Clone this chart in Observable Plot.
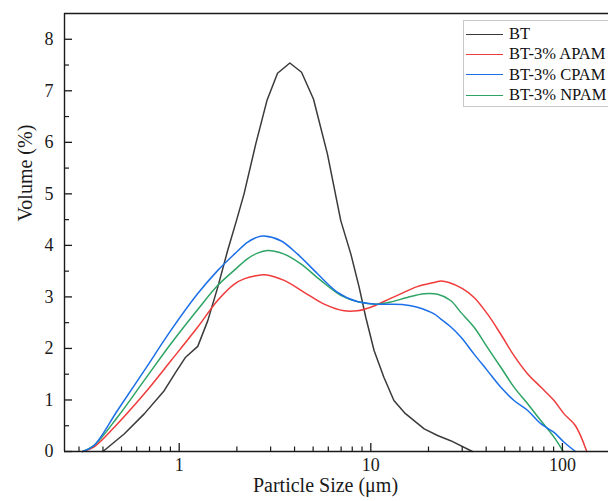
<!DOCTYPE html>
<html><head><meta charset="utf-8">
<script src="https://cdn.jsdelivr.net/npm/d3@7"></script>
<script src="https://cdn.jsdelivr.net/npm/@observablehq/plot@0.6"></script>
<style>
body{margin:0;background:#fff;}
#wrap{position:relative;width:608px;height:501px;overflow:hidden;}
#legend{position:absolute;left:463px;top:20px;width:170px;height:87px;border:1px solid #c8c8c8;box-sizing:border-box;font-family:"Liberation Serif","Times New Roman",serif;font-size:16.5px;background:#fff;color:#111;}
.row{position:absolute;left:0;height:20px;display:flex;align-items:center;white-space:nowrap;}
.sw{width:37px;height:0;border-top:1.3px solid;margin-left:2px;margin-right:6px;}
</style></head>
<body><div id="wrap"><div id="chart"></div><div id="legend"></div></div>
<script>
const seriesNames = ["BT", "BT-3% APAM", "BT-3% CPAM", "BT-3% NPAM"];
const seriesColors = ["#3a3a3a", "#ef3b3b", "#1b6fe8", "#2ea464"];

const xBT = [0.40,0.516,0.657,0.835,0.96,1.08,1.25,1.41,1.59,1.79,1.99,2.18,2.51,2.87,3.26,3.78,4.35,5.02,5.94,6.97,7.87,8.69,9.42,10.4,11.7,13.2,15.0,19.0,22.3,26.1,33.9];
const yBT = [0,0.34,0.73,1.18,1.54,1.83,2.04,2.54,3.19,3.9,4.48,5.0,5.97,6.81,7.34,7.54,7.36,6.84,5.77,4.48,3.83,3.19,2.60,1.96,1.44,0.99,0.75,0.44,0.31,0.21,0];

const xAPAM = [0.313,0.36,0.477,0.657,0.905,1.247,1.586,1.94,2.18,2.51,2.78,3.53,4.49,5.71,7.26,8.5,10,11.7,14.3,17.5,21.4,23.3,25.6,30.1,34.6,40.6,47.6,55.9,65.7,77.1,90.4,102,117,134];
const yAPAM = [0,0.09,0.54,1.12,1.76,2.41,2.93,3.25,3.35,3.41,3.43,3.32,3.09,2.86,2.73,2.73,2.80,2.91,3.06,3.20,3.28,3.31,3.28,3.16,2.99,2.67,2.28,1.86,1.51,1.25,0.99,0.73,0.50,0];

const xCPAM = [0.313,0.36,0.477,0.657,0.905,1.247,1.586,1.94,2.27,2.56,2.78,3.39,4.15,5.27,6.71,8.5,10.8,14.9,17.5,21.4,23.2,26.1,29.5,34.6,40.6,47.6,55.9,65.7,77.1,90.4,102,117];
const yCPAM = [0,0.12,0.80,1.57,2.35,3.06,3.51,3.83,4.06,4.16,4.18,4.09,3.83,3.45,3.09,2.91,2.86,2.85,2.80,2.67,2.57,2.42,2.22,1.89,1.57,1.25,0.99,0.80,0.54,0.37,0.18,0];

const xNPAM = [0.313,0.36,0.477,0.657,0.905,1.247,1.586,1.94,2.27,2.56,2.89,3.53,4.31,5.48,6.97,8.66,10.8,12.7,15.5,19,22.3,26.1,29.5,34.6,40.6,47.6,55.9,65.7,77.1,90.4,101];
const yNPAM = [0,0.12,0.67,1.38,2.09,2.75,3.22,3.52,3.74,3.85,3.90,3.83,3.64,3.32,3.03,2.90,2.86,2.90,2.99,3.06,3.05,2.93,2.70,2.41,2.02,1.64,1.25,0.93,0.60,0.28,0];

const xMajor = [1, 10, 100];
const xMinor = [0.3,0.4,0.5,0.6,0.7,0.8,0.9,2,3,4,5,6,7,8,9,20,30,40,50,60,70,80,90];
const yMajor = [0,1,2,3,4,5,6,7,8];
const yMinor = [0.5,1.5,2.5,3.5,4.5,5.5,6.5,7.5];
const xDomain = [0.252, 174];
const yDomain = [0, 8.5];

const xs = [xBT, xAPAM, xCPAM, xNPAM];
const ys = [yBT, yAPAM, yCPAM, yNPAM];
const tables = xs.map((xa, k) => xa.map((x, i) => ({x, y: ys[k][i], s: seriesNames[k]})));

const axisColor = "#1a1a1a";
const chart = Plot.plot({
  width: 608, height: 501,
  marginLeft: 64, marginRight: 0, marginTop: 13, marginBottom: 50,
  x: {type: "log", domain: xDomain},
  y: {domain: yDomain},
  style: {fontFamily: "'Liberation Serif','Times New Roman',serif", fontSize: "18px", color: axisColor, background: "#fff"},
  marks: [
    Plot.line(tables[0], {x: "x", y: "y", stroke: seriesColors[0], strokeWidth: 1.5}),
    Plot.line(tables[1], {x: "x", y: "y", stroke: seriesColors[1], strokeWidth: 1.5, curve: "catmull-rom"}),
    Plot.line(tables[3], {x: "x", y: "y", stroke: seriesColors[3], strokeWidth: 1.5, curve: "catmull-rom"}),
    Plot.line(tables[2], {x: "x", y: "y", stroke: seriesColors[2], strokeWidth: 1.5, curve: "catmull-rom"}),
    Plot.ruleY([yDomain[0]], {stroke: axisColor, strokeWidth: 1.4}),
    Plot.ruleY([yDomain[1]], {stroke: axisColor, strokeWidth: 1.4}),
    Plot.ruleX([xDomain[0]], {stroke: axisColor, strokeWidth: 1.4}),
    Plot.ruleX(xMajor, {x: d => d, y1: yDomain[0], y2: yDomain[0], insetBottom: 8, stroke: axisColor, strokeWidth: 1.3}),
    Plot.ruleX(xMinor, {x: d => d, y1: yDomain[0], y2: yDomain[0], insetBottom: 4.5, stroke: axisColor, strokeWidth: 1.2}),
    Plot.ruleY(yMajor, {y: d => d, x1: xDomain[0], x2: xDomain[0], insetRight: -8, stroke: axisColor, strokeWidth: 1.3}),
    Plot.ruleY(yMinor, {y: d => d, x1: xDomain[0], x2: xDomain[0], insetRight: -5, stroke: axisColor, strokeWidth: 1.2}),
    Plot.axisX(xMajor, {tickSize: 0, tickPadding: 7, tickFormat: d => String(d), label: null, fontSize: 18}),
    Plot.axisY(yMajor, {tickSize: 0, tickPadding: 11, tickFormat: d => String(d), label: null, fontSize: 18}),
    Plot.text(["Particle Size (μm)"], {frameAnchor: "bottom", dy: 40, dx: -11, fontSize: 20, fill: axisColor}),
    Plot.text(["Volume (%)"], {frameAnchor: "left", rotate: -90, dx: -39, dy: -11, fontSize: 20, fill: axisColor})
  ]
});
document.getElementById("chart").appendChild(chart);

const legend = document.getElementById("legend");
const rowTops = [3, 23, 43.5, 64];
seriesNames.forEach((name, i) => {
  const row = document.createElement("div");
  row.className = "row";
  row.style.top = rowTops[i] + "px";
  const sw = document.createElement("span");
  sw.className = "sw";
  sw.style.borderTopColor = seriesColors[i];
  row.appendChild(sw);
  const t = document.createElement("span");
  t.textContent = name;
  row.appendChild(t);
  legend.appendChild(row);
});
</script></body></html>
